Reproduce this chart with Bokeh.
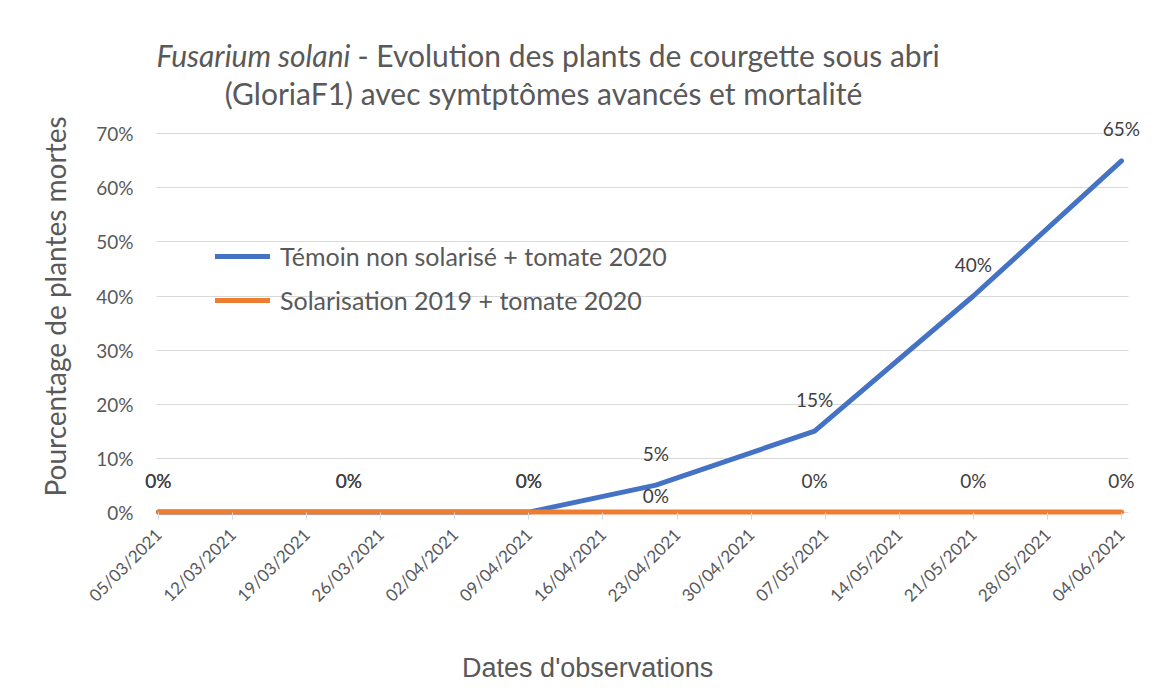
import math
from datetime import datetime, timedelta
from bokeh.plotting import figure
from bokeh.models import (ColumnDataSource, Range1d, FixedTicker, DatetimeTickFormatter,
                          NumeralTickFormatter, Legend, LegendItem, LabelSet, Label, Title)
from bokeh.core.properties import value
from bokeh.embed import file_html
from bokeh.resources import INLINE

# ---- data ----
dates = ["05/03/2021", "23/03/2021", "09/04/2021", "21/04/2021", "06/05/2021", "21/05/2021", "04/06/2021"]
temoin = [0.00, 0.00, 0.00, 0.05, 0.15, 0.40, 0.65]
solarisation = [0.00, 0.00, 0.00, 0.00, 0.00, 0.00, 0.00]
tick_dates = ["05/03/2021", "12/03/2021", "19/03/2021", "26/03/2021", "02/04/2021", "09/04/2021",
              "16/04/2021", "23/04/2021", "30/04/2021", "07/05/2021", "14/05/2021", "21/05/2021",
              "28/05/2021", "04/06/2021"]
y_ticks = [0.0, 0.1, 0.2, 0.3, 0.4, 0.5, 0.6, 0.7]
name_temoin = "Témoin non solarisé + tomate 2020"
name_sol = "Solarisation 2019 + tomate 2020"
label_temoin = ["0%", "0%", "0%", "5%", "15%", "40%", "65%"]
label_sol = ["0%", "0%", "0%", "0%", "0%", "0%", "0%"]
title_italic = "Fusarium solani"
title_rest = "- Evolution des plants de courgette sous abri"
title_line2 = "(GloriaF1) avec symtptômes avancés et mortalité"
x_title = "Dates d'observations"
y_title = "Pourcentage de plantes mortes"

def d(s):
    return datetime.strptime(s, "%d/%m/%Y")

def ms(dt):
    return (dt - datetime(1970, 1, 1)).total_seconds() * 1000.0

xs = [d(s) for s in dates]

BLUE = "#4472C4"
ORANGE = "#ED7D31"
TXT = "#595959"
LBL = "#404040"
FONT = "Lato"

p = figure(width=1158, height=690, output_backend="svg", toolbar_location=None,
           x_axis_type="datetime",
           x_range=Range1d(start=xs[0] - timedelta(days=1.51), end=xs[-1] + timedelta(days=2.27)),
           y_range=Range1d(start=-0.01, end=0.910),
           min_border_left=142, min_border_right=13, min_border_top=20, min_border_bottom=173)
p.outline_line_color = None
p.background_fill_color = "white"
p.border_fill_color = "white"

src_t = ColumnDataSource(dict(x=xs, y=temoin, text=label_temoin, off=[32] * 7))
src_s = ColumnDataSource(dict(x=xs, y=solarisation, text=label_sol, off=[32, 32, 32, 17, 32, 32, 32]))

r_t = p.line("x", "y", source=src_t, line_color=BLUE, line_width=5, line_cap="round", line_join="round")
r_s = p.line("x", "y", source=src_s, line_color=ORANGE, line_width=5, line_cap="round", line_join="round")

for src in (src_t, src_s):
    p.add_layout(LabelSet(x="x", y="y", text="text", source=src, y_offset="off",
                          text_align="center", text_baseline="middle",
                          text_font=value(FONT), text_font_size="19px", text_color=LBL))

# axes
p.xaxis.ticker = FixedTicker(ticks=[ms(d(s)) for s in tick_dates])
fmt = "%d/%m/%Y"
p.xaxis.formatter = DatetimeTickFormatter(milliseconds=fmt, seconds=fmt, minsec=fmt, minutes=fmt,
                                          hourmin=fmt, hours=fmt, days=fmt, months=fmt, years=fmt)
p.xaxis.major_label_orientation = math.pi / 4
p.xaxis.major_label_text_font = FONT
p.xaxis.major_label_text_font_size = "17px"
p.xaxis.major_label_text_color = TXT
p.xaxis.axis_line_color = None
p.xaxis.major_tick_line_color = "#d9d9d9"
p.xaxis.major_tick_in = 5
p.xaxis.major_tick_out = 2
p.xaxis.minor_tick_line_color = None
p.xaxis.major_label_standoff = 12
p.xgrid.grid_line_color = None
# x axis title: centred on the frame, padded with no-break spaces so it sits where Excel put it
p.xaxis.axis_label = x_title + "\u00a0" * 15
p.xaxis.axis_label_text_font = "Liberation Sans"
p.xaxis.axis_label_text_font_style = "normal"
p.xaxis.axis_label_text_font_size = "27px"
p.xaxis.axis_label_text_color = TXT
p.xaxis.axis_label_standoff = 37

p.yaxis.ticker = FixedTicker(ticks=y_ticks)
p.yaxis.formatter = NumeralTickFormatter(format="0%")
p.yaxis.major_label_text_font = FONT
p.yaxis.major_label_text_font_size = "19px"
p.yaxis.major_label_text_color = TXT
p.yaxis.axis_line_color = None
p.yaxis.major_tick_line_color = None
p.yaxis.major_tick_in = 0
p.yaxis.major_tick_out = 0
p.yaxis.minor_tick_line_color = None
p.yaxis.major_label_standoff = 9
p.ygrid.grid_line_color = "#d9d9d9"
p.ygrid.grid_line_width = 1
try:
    p.ygrid.cross_bounds = (ms(xs[0] - timedelta(days=0.2)), ms(xs[-1] + timedelta(days=0.7)))
except Exception:
    pass

# y axis title
yt = Title(text=y_title, align="left", offset=21, standoff=44,
           text_font=FONT, text_font_style="normal", text_font_size="28px", text_color=TXT)
p.add_layout(yt, "left")

# legend
legend = Legend(items=[LegendItem(label=name_temoin, renderers=[r_t]),
                       LegendItem(label=name_sol, renderers=[r_s])],
                location=(73, 202), orientation="vertical",
                glyph_width=55, glyph_height=30, label_height=30, spacing=14,
                label_standoff=10, padding=0, margin=0,
                label_text_font=FONT, label_text_font_size="25px", label_text_color=TXT,
                background_fill_alpha=0, border_line_color=None)
p.add_layout(legend, "center")

# title (two lines, first part italic)
p.add_layout(Label(x=208, y=463, x_units="screen", y_units="screen", text=title_italic,
                   text_align="right", text_baseline="alphabetic", text_font=FONT,
                   text_font_style="italic", text_font_size="30px", text_color=TXT))
p.add_layout(Label(x=215, y=463, x_units="screen", y_units="screen", text=title_rest,
                   text_align="left", text_baseline="alphabetic", text_font=FONT,
                   text_font_size="30px", text_color=TXT))
p.add_layout(Label(x=401, y=425, x_units="screen", y_units="screen", text=title_line2,
                   text_align="center", text_baseline="alphabetic", text_font=FONT,
                   text_font_size="30px", text_color=TXT))

open("out.html", "w").write(file_html(p, INLINE))
